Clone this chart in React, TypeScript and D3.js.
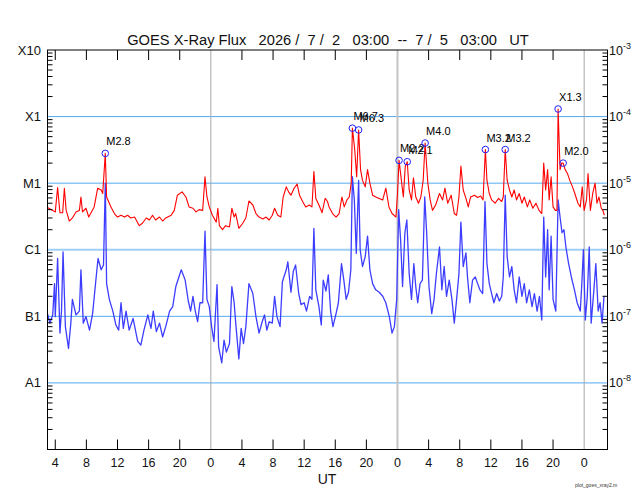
import React from "react";
import * as d3 from "d3";

// hours after 2026/7/2 03:00 UT, flux W/m^2 (1-8 Å)
const longChannel: [number, number][] = [
  [0, 4.3e-6], [0.67, 3.9e-6], [1.0, 3.7e-6], [1.3, 8.6e-6], [1.6, 3.6e-6], [1.95, 3.6e-6], [2.17, 8.4e-6],
  [2.4, 3.9e-6], [2.8, 2.7e-6], [3.2, 3.0e-6], [3.66, 3.7e-6], [4.1, 3.9e-6], [4.3, 6.2e-6], [4.5, 3.7e-6],
  [4.95, 4.2e-6], [5.3, 3.1e-6], [5.6, 3.6e-6], [6.0, 4.4e-6], [6.45, 8.4e-6], [6.9, 7.9e-6], [7.1, 7.0e-6],
  [7.43, 2.8e-5], [7.6, 6.2e-6], [8.16, 4.4e-6], [8.6, 3.5e-6], [9.0, 3.1e-6], [9.45, 3.3e-6], [9.9, 3.1e-6],
  [10.3, 3.3e-6], [10.7, 3.0e-6], [11.2, 3.1e-6], [11.8, 2.3e-6], [12.2, 2.5e-6], [12.7, 3.0e-6], [13.1, 2.8e-6],
  [13.5, 3.3e-6], [13.9, 2.8e-6], [14.4, 3.1e-6], [14.8, 2.7e-6], [15.2, 3.0e-6], [15.9, 3.3e-6], [16.3, 3.9e-6],
  [16.7, 6.6e-6], [17.3, 7.4e-6], [17.8, 6.2e-6], [18.2, 4.4e-6], [18.7, 4.2e-6], [19.1, 3.7e-6], [19.5, 4.0e-6],
  [19.95, 3.9e-6], [20.25, 1.25e-5], [20.5, 6.2e-6], [20.8, 4.4e-6], [21.2, 3.3e-6], [21.7, 2.6e-6], [21.9, 4.2e-6],
  [22.1, 2.3e-6], [22.5, 2.0e-6], [22.9, 2.3e-6], [23.4, 2.2e-6], [23.7, 4.2e-6], [24.0, 3.1e-6], [24.2, 3.5e-6],
  [24.6, 2.1e-6], [25.1, 2.5e-6], [25.5, 3.0e-6], [25.9, 5.4e-6], [26.4, 4.7e-6], [26.8, 3.5e-6], [27.2, 3.1e-6],
  [27.7, 2.9e-6], [28.1, 3.1e-6], [28.5, 2.8e-6], [28.9, 3.3e-6], [29.2, 4.2e-6], [29.6, 3.3e-6], [30.0, 3.1e-6],
  [30.3, 6.2e-6], [30.7, 8.8e-6], [31.0, 7.4e-6], [31.3, 6.6e-6], [31.7, 8.4e-6], [32.1, 9.7e-6], [32.4, 6.6e-6],
  [32.8, 5.3e-6], [33.2, 4.4e-6], [33.65, 4.7e-6], [34.0, 4.4e-6], [34.25, 1.5e-5], [34.5, 5.9e-6], [34.9, 4.7e-6],
  [35.3, 3.6e-6], [35.7, 5.9e-6], [36.0, 5.3e-6], [36.2, 4.4e-6], [36.65, 3.5e-6], [37.1, 3.1e-6], [37.5, 3.5e-6],
  [37.85, 6.2e-6], [38.15, 4.4e-6], [38.5, 5.6e-6], [38.8, 6.2e-6], [39.05, 1.0e-5], [39.2, 6.7e-5], [39.5, 3.2e-5],
  [39.75, 1.25e-5], [40.0, 6.3e-5], [40.25, 1.6e-5], [40.5, 1.1e-5], [40.85, 8.8e-6], [41.15, 1.6e-5], [41.45, 1.0e-5],
  [41.8, 6.6e-6], [42.2, 6.2e-6], [42.65, 5.9e-6], [43.1, 5.6e-6], [43.5, 8.4e-6], [43.9, 4.4e-6], [44.3, 3.5e-6],
  [44.8, 3.1e-6], [45.0, 7.0e-6], [45.2, 2.2e-5], [45.5, 1.1e-5], [45.75, 6.2e-6], [46.0, 1.8e-5], [46.25, 2.1e-5],
  [46.5, 7.9e-6], [46.8, 5.6e-6], [47.05, 1.2e-5], [47.35, 6.2e-6], [47.7, 5.0e-6], [48.0, 6.2e-6], [48.3, 1.1e-5],
  [48.55, 4.0e-5], [48.9, 1.0e-5], [49.2, 5.6e-6], [49.5, 3.9e-6], [49.9, 4.7e-6], [50.4, 7.0e-6], [50.8, 5.6e-6],
  [51.1, 8.4e-6], [51.45, 5.0e-6], [51.9, 6.6e-6], [52.3, 3.5e-6], [52.6, 3.3e-6], [52.9, 6.2e-6], [53.15, 1.8e-5],
  [53.45, 7.9e-6], [53.8, 5.9e-6], [54.1, 4.4e-6], [54.4, 6.2e-6], [54.9, 6.6e-6], [55.3, 6.1e-6], [55.7, 6.4e-6],
  [56.0, 5.6e-6], [56.3, 3.2e-5], [56.5, 1.1e-5], [56.8, 7.0e-6], [57.1, 5.6e-6], [57.55, 5.0e-6], [58.0, 5.9e-6],
  [58.4, 5.3e-6], [58.6, 6.2e-6], [58.85, 3.2e-5], [59.1, 1.1e-5], [59.4, 7.9e-6], [59.7, 6.2e-6], [60.0, 7.9e-6],
  [60.3, 5.6e-6], [60.65, 7.0e-6], [61.0, 5.0e-6], [61.3, 6.2e-6], [61.7, 4.4e-6], [62.0, 5.6e-6], [62.4, 4.2e-6],
  [62.8, 5.0e-6], [63.2, 3.9e-6], [63.55, 3.5e-6], [63.8, 2.0e-5], [64.05, 7.9e-6], [64.3, 1.6e-5], [64.5, 5.6e-6],
  [64.75, 1.25e-5], [65.0, 4.4e-6], [65.3, 3.9e-6], [65.5, 3.9e-6], [65.65, 1.3e-4], [65.9, 1.6e-5], [66.1, 2.0e-5],
  [66.3, 2.0e-5], [66.55, 1.6e-5], [66.85, 1.4e-5], [67.15, 1.1e-5], [67.5, 8.8e-6], [67.8, 7.0e-6], [68.2, 5.0e-6],
  [68.5, 4.4e-6], [68.75, 8.8e-6], [69.0, 3.9e-6], [69.3, 5.6e-6], [69.5, 1.4e-5], [69.8, 3.9e-6], [70.1, 7.0e-6],
  [70.4, 1.0e-5], [70.65, 5.0e-6], [70.9, 6.2e-6], [71.2, 4.2e-6], [71.4, 3.9e-6], [71.6, 3.3e-6],
];

// hours, flux W/m^2 (0.5-4 Å)
const shortChannel: [number, number][] = [
  [0, 1.1e-7], [0.3, 7.9e-8], [0.67, 1.05e-7], [0.9, 3.1e-7], [1.0, 9.9e-8], [1.3, 7.4e-7], [1.6, 5.6e-8],
  [1.8, 1.2e-7], [2.0, 9.3e-7], [2.3, 7.0e-8], [2.7, 3.3e-8], [3.0, 7.9e-8], [3.2, 1.8e-7], [3.66, 1.05e-7],
  [4.1, 1.2e-7], [4.3, 5.0e-7], [4.6, 7.9e-8], [4.95, 9.9e-8], [5.4, 6.2e-8], [5.8, 1.1e-7], [6.2, 3.3e-7],
  [6.5, 7.4e-7], [6.9, 5.0e-7], [7.2, 5.9e-7], [7.43, 1.0e-5], [7.6, 3.1e-7], [7.95, 1.8e-7], [8.4, 1.2e-7],
  [8.8, 7.4e-8], [9.15, 6.2e-8], [9.45, 1.6e-7], [9.75, 6.6e-8], [10.1, 1.2e-7], [10.5, 6.2e-8], [11.0, 9.3e-8],
  [11.6, 4.2e-8], [12.0, 3.7e-8], [12.4, 6.2e-8], [12.9, 1.05e-7], [13.3, 6.6e-8], [13.6, 1.2e-7], [14.0, 5.9e-8],
  [14.4, 7.9e-8], [14.8, 4.9e-8], [15.2, 7.0e-8], [15.7, 1.2e-7], [16.1, 1.4e-7], [16.5, 2.8e-7], [17.2, 5.0e-7],
  [17.7, 3.5e-7], [18.1, 1.7e-7], [18.4, 1.2e-7], [18.7, 2.0e-7], [19.0, 1.2e-7], [19.3, 8.3e-8], [19.6, 1.6e-7],
  [19.95, 1.6e-7], [20.25, 1.9e-6], [20.5, 1.8e-7], [20.8, 1.4e-7], [21.1, 7.0e-8], [21.4, 4.2e-8], [21.8, 3.0e-7],
  [22.0, 3.5e-8], [22.4, 2.0e-8], [22.7, 4.4e-8], [23.0, 2.9e-8], [23.4, 3.9e-8], [23.7, 2.8e-7], [24.0, 1.6e-7],
  [24.2, 7.9e-8], [24.6, 2.3e-8], [24.9, 6.6e-8], [25.2, 3.9e-8], [25.5, 7.0e-8], [25.9, 3.1e-7], [26.4, 2.2e-7],
  [26.8, 9.9e-8], [27.2, 5.6e-8], [27.6, 8.3e-8], [27.9, 1.05e-7], [28.2, 6.2e-8], [28.5, 8.3e-8], [28.9, 7.9e-8],
  [29.2, 2.0e-7], [29.5, 9.9e-8], [29.9, 7.0e-8], [30.2, 3.3e-7], [30.7, 5.0e-7], [30.9, 6.6e-7], [31.3, 2.3e-7],
  [31.6, 4.7e-7], [31.9, 5.9e-7], [32.3, 2.2e-7], [32.6, 1.5e-7], [33.0, 1.6e-7], [33.3, 1.2e-7], [33.7, 2.0e-7],
  [34.0, 1.8e-7], [34.25, 2.1e-6], [34.5, 2.5e-7], [34.9, 1.4e-7], [35.2, 7.4e-8], [35.45, 3.5e-7], [35.8, 2.4e-7],
  [36.1, 4.2e-7], [36.4, 1.2e-7], [36.7, 7.0e-8], [37.1, 1.1e-7], [37.4, 1.6e-7], [37.8, 6.2e-7], [38.1, 3.5e-7],
  [38.4, 1.8e-7], [38.7, 2.3e-7], [39.0, 5.0e-7], [39.2, 1.25e-5], [39.45, 5.6e-6], [39.7, 8.8e-7], [40.0, 1.1e-5],
  [40.2, 1.0e-6], [40.5, 5.6e-7], [40.85, 7.9e-7], [41.15, 1.6e-6], [41.45, 5.0e-7], [41.8, 3.1e-7], [42.2, 2.5e-7],
  [42.65, 2.3e-7], [43.1, 2.0e-7], [43.5, 1.6e-7], [43.95, 9.9e-8], [44.3, 5.6e-8], [44.6, 7.0e-8], [44.9, 1.8e-7],
  [45.15, 4.0e-6], [45.4, 1.4e-6], [45.65, 2.8e-7], [45.95, 1.8e-6], [46.2, 2.8e-6], [46.5, 4.4e-7], [46.8, 1.8e-7],
  [47.1, 6.2e-7], [47.35, 2.8e-7], [47.6, 1.6e-7], [47.9, 3.1e-7], [48.2, 3.5e-7], [48.5, 6.2e-6], [48.75, 1.8e-6],
  [49.05, 2.8e-7], [49.4, 1.1e-7], [49.7, 1.8e-7], [50.0, 4.4e-7], [50.4, 1.1e-6], [50.7, 2.5e-7], [51.0, 5.6e-7],
  [51.3, 2.0e-7], [51.65, 3.5e-7], [52.0, 1.8e-7], [52.3, 7.9e-8], [52.6, 1.8e-7], [52.9, 4.4e-7], [53.15, 2.6e-6],
  [53.45, 5.6e-7], [53.8, 9.0e-7], [54.0, 3.9e-7], [54.3, 1.6e-7], [54.65, 3.5e-7], [55.0, 3.9e-7], [55.3, 3.1e-7],
  [55.6, 2.5e-7], [55.95, 2.2e-7], [56.25, 5.3e-6], [56.5, 6.2e-7], [56.8, 3.1e-7], [57.1, 2.2e-7], [57.4, 1.6e-7],
  [57.75, 2.2e-7], [58.1, 1.7e-7], [58.4, 2.0e-7], [58.6, 3.9e-7], [58.85, 6.6e-6], [59.1, 7.9e-7], [59.4, 3.9e-7],
  [59.7, 5.6e-7], [60.0, 2.5e-7], [60.3, 1.6e-7], [60.65, 3.9e-7], [61.0, 2.0e-7], [61.3, 3.1e-7], [61.6, 1.6e-7],
  [61.95, 2.5e-7], [62.3, 1.4e-7], [62.6, 2.2e-7], [62.95, 1.2e-7], [63.25, 2.0e-7], [63.55, 8.8e-8], [63.8, 3.1e-6],
  [64.05, 3.9e-7], [64.3, 2.0e-6], [64.5, 2.5e-7], [64.75, 1.6e-6], [65.0, 1.8e-7], [65.35, 1.2e-7], [65.65, 5.6e-6],
  [65.9, 3.1e-6], [66.15, 1.8e-6], [66.4, 2.0e-6], [66.65, 1.1e-6], [67.0, 6.2e-7], [67.35, 3.9e-7], [67.75, 2.5e-7],
  [68.1, 1.6e-7], [68.5, 1.2e-7], [68.7, 3.1e-7], [68.9, 1.0e-6], [69.15, 8.8e-8], [69.4, 2.0e-7], [69.65, 1.1e-6],
  [69.9, 7.9e-8], [70.25, 2.5e-7], [70.5, 6.2e-7], [70.8, 1.2e-7], [71.05, 1.6e-7], [71.3, 7.9e-8], [71.55, 2.0e-7],
];

const flareNames = ["M2.8", "M6.7", "M6.3", "M2.2", "M2.1", "M4.0", "M3.2", "M3.2", "X1.3", "M2.0"];
const flareHours = [7.43, 39.2, 40.0, 45.2, 46.25, 48.55, 56.3, 58.85, 65.65, 66.3];
const flareFlux = [2.8e-5, 6.7e-5, 6.3e-5, 2.2e-5, 2.1e-5, 4.0e-5, 3.2e-5, 3.2e-5, 1.3e-4, 2.0e-5];

const classLabels = ["X10", "X1", "M1", "C1", "B1", "A1"];
const classLevels = [1e-3, 1e-4, 1e-5, 1e-6, 1e-7, 1e-8];
const exponentLabels = ["-3", "-4", "-5", "-6", "-7", "-8"];
const gridLevels = [1e-4, 1e-5, 1e-6, 1e-7, 1e-8];
const startHourOfDay = 3;
const totalHours = 72;
const title = "GOES X-Ray Flux   2026 /  7 /  2   03:00  --  7 /  5   03:00   UT";

const W = 640;
const H = 500;
const L = 47.5;
const R = 607.5;
const T = 50;
const B = 449.5;
const FONT = "'Liberation Sans', Arial, Helvetica, sans-serif";

export default function App() {
  const x = d3.scaleLinear().domain([0, totalHours]).range([L, R]);
  const y = d3.scaleLog().domain([1e-9, 1e-3]).range([B, T]);

  const line = d3
    .line<[number, number]>()
    .x((d) => x(d[0]))
    .y((d) => y(d[1]));

  const hourTicks = d3.range(0, totalHours + 1).filter((h) => (h + startHourOfDay) % 4 === 0);
  const midnights = hourTicks.filter((h) => (h + startHourOfDay) % 24 === 0);

  const minorTicks: number[] = [];
  for (let e = -9; e < -3; e++) {
    for (let m = 2; m <= 9; m++) minorTicks.push(m * Math.pow(10, e));
  }

  return (
    <svg
      width={W}
      height={H}
      style={{ position: "absolute", left: 0, top: 0, background: "#fff" }}
      fontFamily={FONT}
    >
      <rect x={0} y={0} width={W} height={H} fill="#fff" />
      {/* horizontal class grid */}
      {gridLevels.map((v) => (
        <line
          key={"g" + v}
          x1={L}
          x2={R}
          y1={y(v)}
          y2={y(v)}
          stroke={v === 1e-6 ? "#9fd0f4" : "#52aaf0"}
          strokeWidth={v === 1e-6 ? 2 : 1}
        />
      ))}
      {/* day separators */}
      {midnights.map((h, i) => (
        <line
          key={"m" + h}
          x1={x(h)}
          x2={x(h)}
          y1={T}
          y2={B}
          stroke={i === 1 ? "#c4c4c4" : "#a8a8a8"}
          strokeWidth={i === 1 ? 2 : 1}
        />
      ))}
      {/* data */}
      <path d={line(shortChannel) || ""} fill="none" stroke="#3d3dff" strokeWidth={1.3} strokeLinejoin="round" />
      <path d={line(longChannel) || ""} fill="none" stroke="#ff0000" strokeWidth={1.1} strokeLinejoin="round" />
      {/* flares */}
      {flareNames.map((n, i) => (
        <g key={"f" + i}>
          <circle cx={x(flareHours[i])} cy={y(flareFlux[i])} r={3.3} fill="none" stroke="#2020ff" strokeWidth={1} />
          <text x={x(flareHours[i]) + 1} y={y(flareFlux[i]) - 8} fontSize={11} fill="#000">
            {n}
          </text>
        </g>
      ))}
      {/* frame */}
      <rect x={L} y={T} width={R - L} height={B - T} fill="none" stroke="#000" strokeWidth={1} />
      {/* y minor ticks */}
      {minorTicks.map((v) => (
        <g key={"t" + v}>
          <line x1={L} x2={L + 5} y1={y(v)} y2={y(v)} stroke="#000" strokeWidth={1} />
          <line x1={R - 5} x2={R} y1={y(v)} y2={y(v)} stroke="#000" strokeWidth={1} />
        </g>
      ))}
      {/* x ticks */}
      {hourTicks
        .filter((h) => (h + startHourOfDay) % 24 !== 0)
        .map((h) => (
          <g key={"x" + h}>
            <line x1={x(h)} x2={x(h)} y1={B} y2={B - 10} stroke="#000" strokeWidth={1} />
            <line x1={x(h)} x2={x(h)} y1={T} y2={T + 10} stroke="#000" strokeWidth={1} />
          </g>
        ))}
      {hourTicks.map((h) => (
        <text key={"xl" + h} x={x(h)} y={467} fontSize={12.5} textAnchor="middle" fill="#111">
          {String((h + startHourOfDay) % 24)}
        </text>
      ))}
      {/* y labels */}
      {classLabels.map((c, i) => (
        <text key={"c" + c} x={41} y={y(classLevels[i]) + 4.5} fontSize={13} textAnchor="end" fill="#111">
          {c}
        </text>
      ))}
      {exponentLabels.map((e, i) => (
        <text key={"e" + e} x={609} y={y(classLevels[i]) + 4.5} fontSize={12.5} fill="#111">
          10
          <tspan dy={-6} fontSize={9}>
            {e}
          </tspan>
        </text>
      ))}
      <text x={328} y={45} fontSize={14.7} textAnchor="middle" fill="#111" style={{ whiteSpace: "pre" }}>
        {title}
      </text>
      <text x={327} y={484} fontSize={14} textAnchor="middle" fill="#111">
        UT
      </text>
      <text x={575} y={487} fontSize={5} fill="#333">
        plot_goes_xray2.m
      </text>
    </svg>
  );
}
